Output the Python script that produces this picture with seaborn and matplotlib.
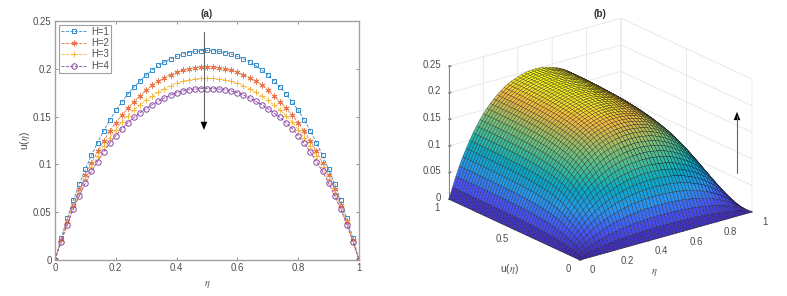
import numpy as np
import matplotlib
matplotlib.use("Agg")
import matplotlib.pyplot as plt
from matplotlib.colors import LinearSegmentedColormap
from mpl_toolkits.mplot3d import proj3d
import seaborn as sns

# ---- panel (a): left half of each profile, curves are symmetric about eta=0.5
h1_half = [0,.0227,.0436,.0625,.0795,.0950,.1095,.1228,.135,.1464,.1565,.1655,.1738,.181,.1875,.1935,.1988,.2035,.2072,.2104,.2130,.2152,.2170,.2182,.219,.2193]
h2_half = [0,.0210,.0405,.0580,.0740,.0885,.1015,.1135,.1245,.1350,.1437,.1515,.159,.1656,.1715,.1775,.183,.1870,.1908,.194,.1965,.1985,.2003,.2013,.202,.2022]
h3_half = [0,.0200,.0385,.0552,.0705,.0843,.0968,.1083,.119,.1278,.1365,.1445,.151,.157,.1622,.167,.1715,.1755,.1792,.1825,.1848,.1868,.1884,.1893,.1899,.19]
h4_half = [0,.0192,.0369,.053,.0672,.0805,.0927,.103,.113,.122,.130,.1375,.1437,.1492,.154,.1583,.1625,.166,.1695,.1725,.175,.1768,.178,.1788,.1792,.1793]
labels = ["H=1", "H=2", "H=3", "H=4"]
markers = ["s", (6, 2, 0), "+", "o"]
colors = ["#2f8ccb", "#e8744a", "#f5b83a", "#8a45a5"]
eta_ticks = ["0", "0.2", "0.4", "0.6", "0.8", "1"]
u_ticks = ["0", "0.5", "1"]
z_ticks = ["0", "0.05", "0.1", "0.15", "0.2", "0.25"]

# ---- panel (b): profile along the u(eta) axis
g_y = [0,.09,.175,.255,.33,.40,.46,.515,.565,.615,.66,.70,.735,.77,.80,.825,.845,.865,.88,.895,.905,.915,.925,.933,.94,.947,.953,.958,.963,.967,.971,.975,.978,.981,.983,.985,.987,.989,.991,.993,.994,.995,.996,.997,.998,.9985,.999,.9993,.9996,.9999,1]
z_peak = 0.2

parula = LinearSegmentedColormap.from_list("parula", [
    (0.0, (.2422,.1504,.6603)), (.15, (.2810,.3228,.9579)), (.3, (.1540,.5902,.9218)),
    (.45, (.03,.66,.77)), (.55, (.18,.72,.64)), (.7, (.48,.75,.47)), (.8, (.74,.73,.33)),
    (.88, (.97,.73,.24)), (.95, (.96,.88,.15)), (1.0, (.977,.984,.08))])

sns.set_theme(style="white")
plt.rcParams["font.family"] = ["Liberation Sans", "DejaVu Sans"]
plt.rcParams["mathtext.fontset"] = "stix"
TXT = "#4d4d4d"
FS = 6.9
W, H = 787, 296
fig = plt.figure(figsize=(W/100, H/100), dpi=100)

# panel (a)
ax = fig.add_axes([55/W, 1-260/H, 304/W, 239/H])
mirror = lambda h: np.array(h + h[-2::-1])
eta = np.linspace(0, 1, 51)
sizes = [2.8, 4.2, 4.0, 3.9]
for half, lab, mk, col, ms in zip([h1_half, h2_half, h3_half, h4_half], labels, markers, colors, sizes):
    sns.lineplot(x=eta, y=mirror(half), ax=ax, label=lab, color=col, marker=mk, linestyle="--",
                 linewidth=.6, markersize=ms, markerfacecolor="none", markeredgecolor=col,
                 markeredgewidth=.7, errorbar=None)
ax.set_xlim(0, 1); ax.set_ylim(0, .25)
ax.set_xticks([0, .2, .4, .6, .8, 1]); ax.set_xticklabels(eta_ticks)
ax.set_yticks([0, .05, .1, .15, .2, .25]); ax.set_yticklabels(z_ticks)
ax.tick_params(direction="in", length=2.2, width=.6, color="#808080", labelsize=FS, labelcolor=TXT,
               top=True, right=True, bottom=True, left=True, pad=2.5)
for s in ax.spines.values():
    s.set_color("#a0a0a0"); s.set_linewidth(1.0)
ax.set_title("(a)", fontsize=FS+.3, fontweight="bold", color="#333333", pad=3)
ax.set_xlabel(r"$\eta$", fontsize=7.5, color=TXT, labelpad=4)
ax.set_ylabel(r"u($\eta$)", fontsize=7.5, color=TXT, labelpad=1)
leg = ax.legend(loc="upper left", bbox_to_anchor=(3.5/304, 1-3.5/239), borderaxespad=0, fontsize=FS,
                frameon=True, fancybox=False, framealpha=1, edgecolor="#a0a0a0", labelcolor=TXT,
                labelspacing=.15, handlelength=2.7, handletextpad=.45, borderpad=.22)
leg.get_frame().set_linewidth(.8)
ax.annotate("", xy=(.49, .133), xytext=(.49, .2385),
            arrowprops=dict(arrowstyle="-|>,head_width=.2,head_length=.5", color="black", lw=.0))
ax.plot([.49, .49], [.2385, .14], color="#666666", lw=.8)

# panel (b)
ax3 = fig.add_axes([.55, .05, .4, .9], projection="3d", proj_type="ortho")
ax3.view_init(elev=21.1, azim=-127.8)
ax3.set_box_aspect((218, 214, 142.6))
f_eta = mirror(h1_half) / max(h1_half)
E, Y = np.meshgrid(eta, np.linspace(0, 1, 51))
Z = z_peak * np.outer(g_y, f_eta)
ax3.plot_surface(E, Y, Z, rstride=1, cstride=1, cmap=parula, vmin=0, vmax=z_peak, shade=False,
                 edgecolor="#111111", linewidth=.2, antialiased=True)
ax3.set_xlim(0, 1, view_margin=0); ax3.set_ylim(0, 1, view_margin=0); ax3.set_zlim(0, .25, view_margin=0)
ax3.set_xticks([0, .2, .4, .6, .8, 1])
ax3.set_yticks([0, .5, 1])
ax3.set_zticks([0, .05, .1, .15, .2, .25])
ax3.set_xticklabels([]); ax3.set_yticklabels([]); ax3.set_zticklabels([])
for a in (ax3.xaxis, ax3.yaxis, ax3.zaxis):
    a.set_pane_color((1, 1, 1, 0))
    a.pane.set_edgecolor("#e4e4e4")
    a._axinfo["grid"].update(color="#e6e6e6", linewidth=.6)
    a._axinfo["tick"].update(inward_factor=.0, outward_factor=.12)
    a.line.set_color("#808080"); a.line.set_linewidth(.7)
ax3.tick_params(color="#808080", width=.6)

# fit the 3D box on its place in the figure (box corners measured on the reference)
def px(x, y, z):
    fig.canvas.draw()
    a, b, _ = proj3d.proj_transform(x, y, z, ax3.get_proj())
    return ax3.transData.transform((a, b))
target = dict(front=(580, H-260), left=(449, H-199), right=(752, H-212))
cx, cy, s = 600., 148., 300.
for _ in range(3):
    ax3.set_position([(cx-s/2)/W, (cy-s/2)/H, s/W, s/H])
    L = px(0, 1, 0); R = px(1, 0, 0); F = px(0, 0, 0)
    s *= (target["right"][0]-target["left"][0]) / (R[0]-L[0])
    ax3.set_position([(cx-s/2)/W, (cy-s/2)/H, s/W, s/H])
    L = px(0, 1, 0); R = px(1, 0, 0); F = px(0, 0, 0)
    cx += target["left"][0]-L[0]
    cy += target["front"][1]-F[1]
ax3.set_position([(cx-s/2)/W, (cy-s/2)/H, s/W, s/H])
ax3.patch.set_alpha(0)

# axis texts of panel (b): plain figure text at the projected place of each tick
def label3d(x, y, z, text, fs=FS, ha="center"):
    p = px(x, y, z)
    fig.text(p[0]/W, p[1]/H, text, fontsize=fs, color=TXT, ha=ha, va="center")
for t, lab in zip([0, .2, .4, .6, .8, 1], eta_ticks):
    label3d(t-.035, -.1425, 0, lab)
for t, lab in zip([0, .5, 1], u_ticks):
    label3d(-.114, t-.058, 0, lab)
for t, lab in zip([0, .05, .1, .15, .2, .25], z_ticks):
    label3d(-.0174, 1.0383, t, lab, ha="right")
label3d(-.325, .108, 0, r"u($\eta$)", fs=7.5)
label3d(.168, -.345, 0, r"$\eta$", fs=7.5)

fig.text(600/W, 1-14/H, "(b)", fontsize=FS+.3, fontweight="bold", color="#333333", ha="center", va="center")
fig.add_artist(plt.Line2D([737/W, 737/W], [1-173/H, 1-116/H], color="#666666", lw=.8))
ax3.annotate("", xy=(737/W, 1-109/H), xytext=(737/W, 1-122/H), xycoords="figure fraction", textcoords="figure fraction",
             arrowprops=dict(arrowstyle="-|>,head_width=.2,head_length=.5", color="black", lw=0))
fig.savefig("out.png", dpi=100)
